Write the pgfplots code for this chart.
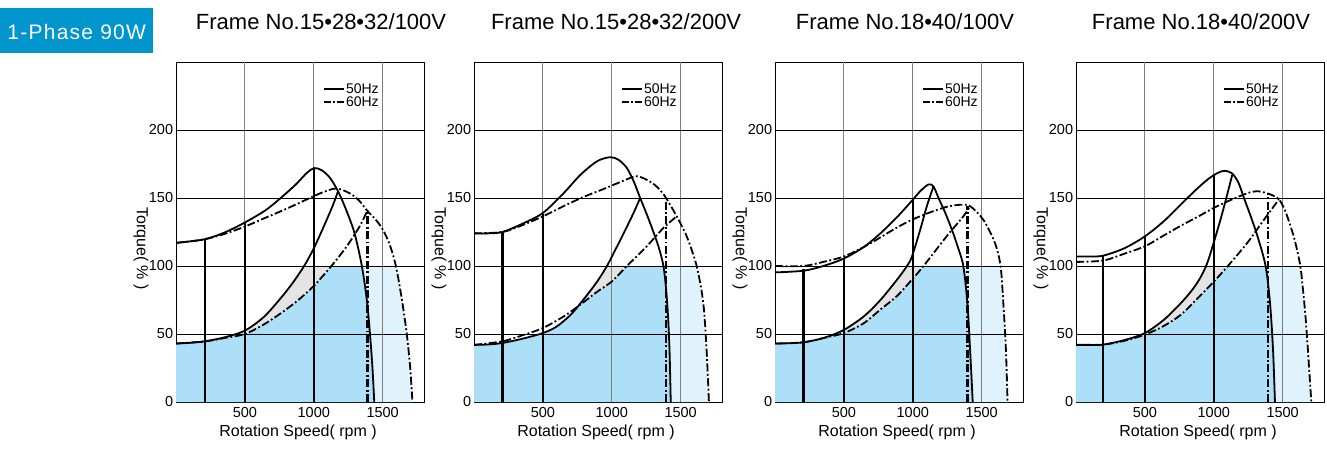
\documentclass[border=0pt]{standalone}
\usepackage{fontspec}
\setmainfont{Liberation Sans}
\usepackage{pgfplots}
\pgfplotsset{compat=1.18}

\definecolor{lblblue}{HTML}{0095CC}
\definecolor{fillblue}{HTML}{ADDFF8}
\definecolor{filllight}{HTML}{E0F3FC}
\definecolor{fillgray}{HTML}{E4E4E4}

\pgfplotsset{
  panel/.style={
    scale only axis, width=248pt, height=340pt, anchor=south west,
    xmin=0, xmax=1800, ymin=0, ymax=250,
    xtick={500,1000,1500}, ytick={0,50,100,150,200},
    axis line style={line width=0.9pt},
    major tick length=0pt,
    tick label style={font=\fontsize{14.5}{14.5}\selectfont},
    /pgf/number format/assume math mode=true,
    /pgf/number format/1000 sep={},
    xticklabel style={inner sep=0pt, yshift=-4.7pt},
    yticklabel style={inner sep=0pt, xshift=-2.7pt},
    xlabel={Rotation Speed( rpm )},
    ylabel={Torque( \% )},
    label style={font=\fontsize{16}{16}\selectfont},
    xlabel style={at={(axis description cs:0.492,-0.1)}, anchor=base},
    ylabel style={rotate=180, at={(axis description cs:-0.141,0.4515)}, anchor=center},
    title style={font=\fontsize{22}{22}\selectfont, anchor=base},
    legend style={at={(axis cs:1065,235)}, anchor=north west, draw=none, fill=none,
      inner sep=0pt, font=\fontsize{14}{14}\selectfont, row sep=0pt,
      nodes={inner sep=0.8pt}},
    legend cell align=left,
    legend image code/.code={\draw[##1] (0pt,0pt) -- (20.6pt,0pt);},
  },
  c50/.style={black, line width=1.8pt, smooth, forget plot},
  c60/.style={black, line width=1.8pt, smooth, dash pattern=on 8pt off 2.5pt on 1.8pt off 2.5pt, forget plot},
  vl/.style={black, line width=2.4pt, forget plot},
  vd/.style={black, line width=2.4pt, dash pattern=on 8pt off 2.5pt on 1.8pt off 2.5pt, forget plot},
  fb/.style={fill=fillblue, draw=none, forget plot},
  fl/.style={fill=filllight, draw=none, forget plot},
  fg/.style={fill=fillgray, draw=none, forget plot},
  gx/.style={color=black!50, line width=0.9pt, forget plot},
  gy/.style={color=black, line width=0.7pt, forget plot},
}
\newcommand{\mygrid}{%
  \addplot[gx] coordinates {(500,0) (500,250)};
  \addplot[gx] coordinates {(1000,0) (1000,250)};
  \addplot[gx] coordinates {(1500,0) (1500,250)};
  \addplot[gy] coordinates {(0,50) (1800,50)};
  \addplot[gy] coordinates {(0,100) (1800,100)};
  \addplot[gy] coordinates {(0,150) (1800,150)};
  \addplot[gy] coordinates {(0,200) (1800,200)};
}
\newcommand{\mylegend}{%
  \addlegendimage{black, line width=1.7pt}\addlegendentry{50Hz}
  \addlegendimage{black, line width=1.7pt, dash pattern=on 7pt off 2pt on 1.8pt off 2pt}\addlegendentry{60Hz}
}

\begin{document}
\begin{tikzpicture}
\path (0pt,0pt) rectangle (1327pt,450pt);
\fill[lblblue] (0pt,396.7pt) rectangle (152.7pt,441.7pt);
\node[anchor=base, text=white, inner sep=0pt, font=\fontsize{21}{21}\selectfont\addfontfeatures{LetterSpace=6}] at (76.7pt,410pt) {1-Phase 90W};

% ---------------- Panel 1 ----------------
\begin{axis}[panel, at={(176pt,48pt)}, title={Frame No.15•28•32/100V}, title style={at={(axis description cs:0.585,1.078)}}]
\addplot[fb] coordinates {(0,0) (0,43) (210,44.6) (350,47) (500,50) (637,57) (757,65) (876,74) (992,84.5) (1060,92) (1128,100) (1349,100) (1385,75) (1408,50) (1426,25) (1439,0)} -- cycle;
\addplot[fl] coordinates {(1349,100) (1596,100) (1640,75) (1675,50) (1700,25) (1716,0) (1439,0) (1426,25) (1408,50) (1385,75)} -- cycle;
\addplot[fg] coordinates {(450,50) (500,52.5) (637,62.5) (757,76) (850,88) (936,101) (936,100) (1128,100) (1060,92) (992,84.5) (876,74) (757,65) (637,57) (500,50)} -- cycle;
\mygrid
\addplot[c50] coordinates {(0,117) (200,119.5) (350,124.5) (500,132) (650,141) (760,150) (870,160) (950,168.5) (1003,172) (1056,170.5) (1116,165) (1176,155) (1236,141) (1296,124) (1349,100) (1385,75) (1408,50) (1426,25) (1439,0)};
\addplot[c60] coordinates {(0,117) (200,119.5) (350,123.5) (500,129) (650,135.5) (800,142) (950,149) (1060,154) (1164,157) (1260,153.5) (1330,148) (1385,141) (1450,134) (1500,127) (1550,116) (1596,100) (1640,75) (1675,50) (1700,25) (1716,0)};
\addplot[c50] coordinates {(0,43) (100,43.5) (210,44.6) (350,47.5) (500,52.5) (637,62.5) (757,76) (850,88) (936,101) (1000,113) (1068,128) (1140,145) (1176,155)};
\addplot[c60] coordinates {(0,43) (210,44.6) (350,47) (500,50) (637,57) (757,65) (876,74) (992,84.5) (1060,92) (1128,100) (1236,114) (1332,129) (1390,141)};
\addplot[vl] coordinates {(210,0) (210,120)};
\addplot[vl] coordinates {(500,0) (500,131.5)};
\addplot[vl] coordinates {(1000,0) (1000,171.5)};
\addplot[vd] coordinates {(1390,0) (1390,141)};
\mylegend
\end{axis}

% ---------------- Panel 2 ----------------
\begin{axis}[panel, at={(474pt,48pt)}, title={Frame No.15•28•32/200V}, title style={at={(axis description cs:0.573,1.078)}}]
\addplot[fb] coordinates {(0,0) (0,42) (100,42.3) (206,43.4) (350,46.5) (500,50.7) (600,55.5) (700,64) (772,72) (893,81) (1001,88.7) (1110,100) (1375,100) (1395,82) (1410,60) (1420,35) (1428,0)} -- cycle;
\addplot[fl] coordinates {(1375,100) (1616,100) (1664,73) (1688,38.5) (1705,0) (1428,0) (1420,35) (1410,60) (1395,82)} -- cycle;
\addplot[fg] coordinates {(772,72) (850,82.5) (910,91) (965,100) (1110,100) (1001,88.7) (893,81)} -- cycle;
\mygrid
\addplot[c50] coordinates {(0,124) (100,124) (206,125) (350,131) (500,139) (652,153.7) (772,167) (893,177) (989,180) (1050,178) (1110,172) (1160,162) (1206,150) (1250,139) (1295,127) (1340,114) (1375,100) (1395,82) (1410,60) (1420,35) (1428,0)};
\addplot[c60] coordinates {(0,124) (206,125) (350,130) (500,136.5) (650,144) (800,151) (950,157) (1080,162.5) (1182,166) (1278,162) (1340,157) (1394,150) (1471,136.5) (1543,122) (1616,100) (1664,73) (1688,38.5) (1705,0)};
\addplot[c50] coordinates {(0,42) (100,42.3) (206,43.4) (350,46.5) (500,50.7) (600,55.5) (700,64) (772,72.5) (850,82.5) (910,91) (965,100) (1001,107) (1086,124) (1158,139) (1206,150)};
\addplot[c60] coordinates {(0,42) (206,44.6) (350,49) (500,54.4) (652,63) (772,71.6) (893,81) (1001,88.7) (1110,100) (1254,114.5) (1375,128) (1471,136.5)};
\addplot[vl] coordinates {(206,0) (206,125)};
\addplot[vl] coordinates {(500,0) (500,138)};
\addplot[vd] coordinates {(1394,0) (1394,150)};
\mylegend
\end{axis}

% ---------------- Panel 3 ----------------
\begin{axis}[panel, at={(775pt,48pt)}, title={Frame No.18•40/100V}, title style={at={(axis description cs:0.524,1.078)}}]
\addplot[fb] coordinates {(0,0) (0,43) (206,43.9) (350,47) (500,50.7) (645,58) (765,68) (886,78) (994,90) (1078,100) (1367,100) (1396,73) (1416,38.5) (1435,0)} -- cycle;
\addplot[fl] coordinates {(1367,100) (1637,100) (1657,73) (1676,38.5) (1688,0) (1435,0) (1416,38.5) (1396,73)} -- cycle;
\addplot[fg] coordinates {(450,50) (500,53) (645,63) (765,75) (886,90) (958,100) (1078,100) (994,90) (886,78) (765,68) (645,58) (500,50.7)} -- cycle;
\mygrid
\addplot[c50] coordinates {(0,95.3) (206,96.5) (350,100) (500,105.5) (645,114) (765,124) (886,136) (994,148) (1054,155) (1114,160) (1150,158.5) (1187,150) (1240,138) (1290,125) (1330,113) (1367,100) (1396,73) (1416,38.5) (1435,0)};
\addplot[c60] coordinates {(0,100) (206,100) (350,103) (500,107) (645,114) (765,121) (880,128) (994,134) (1127,139.5) (1247,143.5) (1343,145) (1416,144) (1512,134) (1596,117) (1637,100) (1657,73) (1676,38.5) (1688,0)};
\addplot[c50] coordinates {(0,43) (100,43.2) (206,43.9) (350,47) (500,53) (645,63) (765,75) (886,90) (958,100) (994,107) (1054,126.7) (1102,144) (1150,158.5)};
\addplot[c60] coordinates {(0,43) (206,43.9) (350,47) (500,50.7) (645,58) (765,68) (886,78) (994,90) (1078,100) (1247,122) (1367,136.5) (1416,144)};
\addplot[vl] coordinates {(206,0) (206,98)};
\addplot[vl] coordinates {(500,0) (500,106)};
\addplot[vl] coordinates {(1000,0) (1000,149)};
\addplot[vd] coordinates {(1396,0) (1396,144)};
\mylegend
\end{axis}

% ---------------- Panel 4 ----------------
\begin{axis}[panel, at={(1076pt,48pt)}, title={Frame No.18•40/200V}, title style={at={(axis description cs:0.504,1.078)}}]
\addplot[fb] coordinates {(0,0) (0,42) (197,42.2) (350,45) (500,49.5) (638,56) (759,64) (880,76) (1000,88.5) (1102,100) (1376,100) (1408,73) (1430,38.5) (1444,0)} -- cycle;
\addplot[fl] coordinates {(1376,100) (1628,100) (1650,80) (1668,60) (1682,40) (1695,20) (1708,0) (1444,0) (1430,38.5) (1408,73)} -- cycle;
\addplot[fg] coordinates {(450,48) (500,50.7) (638,60.5) (759,72.5) (840,82) (900,91) (945,100) (1102,100) (1000,88.5) (880,76) (759,64) (638,56) (500,49.5)} -- cycle;
\mygrid
\addplot[c50] coordinates {(0,107) (100,107) (197,107.6) (350,113) (500,121.8) (638,133) (759,145) (870,156) (960,164) (1030,168.5) (1080,170) (1134,168) (1180,161) (1219,150) (1270,136) (1320,121) (1376,100) (1408,73) (1430,38.5) (1444,0)};
\addplot[c60] coordinates {(0,103) (197,104) (350,109) (500,114.5) (638,122.5) (759,129.5) (880,136) (996,142.5) (1122,148.5) (1243,153.5) (1316,155) (1401,153) (1473,149) (1520,140) (1558,129) (1590,118) (1628,100) (1650,80) (1668,60) (1682,40) (1695,20) (1708,0)};
\addplot[c50] coordinates {(0,42) (100,42) (197,42.2) (350,45.5) (500,50.7) (638,60.5) (759,72.5) (840,82) (900,91) (950,101.5) (996,116) (1062,139) (1134,167)};
\addplot[c60] coordinates {(0,42) (197,42.2) (350,45) (500,49.5) (638,56) (759,64) (880,76) (1000,88.5) (1102,100) (1243,117) (1364,134) (1473,149)};
\addplot[vl] coordinates {(197,0) (197,107.6)};
\addplot[vl] coordinates {(500,0) (500,122)};
\addplot[vl] coordinates {(1000,0) (1000,166.5)};
\addplot[vd] coordinates {(1393,0) (1393,153)};
\mylegend
\end{axis}
\end{tikzpicture}
\end{document}
